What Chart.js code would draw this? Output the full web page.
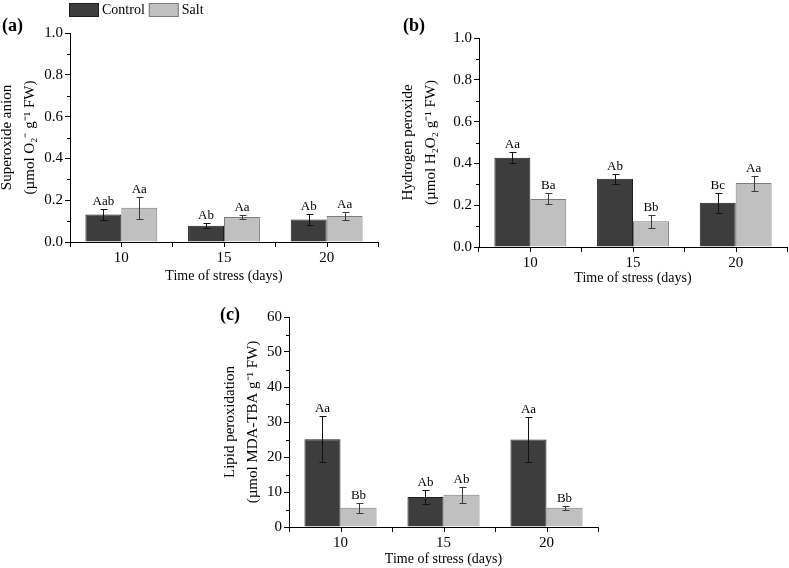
<!DOCTYPE html>
<html>
<head>
<meta charset="utf-8">
<script src="https://cdn.jsdelivr.net/npm/chart.js@4.4.1/dist/chart.umd.min.js"></script>
<style>
    html, body { margin: 0; padding: 0; background: #fff; }
    body { width: 789px; height: 568px; position: relative; overflow: hidden; }
    canvas { position: absolute; }
</style>
</head>
<body>
<canvas id="superoxideChart" width="392" height="290" style="left:-4px;top:0px"></canvas>
<canvas id="peroxideChart" width="392" height="290" style="left:397px;top:0px"></canvas>
<canvas id="lipidChart" width="385" height="278" style="left:219px;top:290px"></canvas>
<script>
const FONT = "'Liberation Serif', 'Times New Roman', serif";

const days = ['10', '15', '20'];
const seriesNames = ['Control', 'Salt'];

// (a) superoxide anion
const superoxideControl = [0.132, 0.078, 0.108];
const superoxideControlErr = [0.025, 0.013, 0.027];
const superoxideSalt = [0.164, 0.120, 0.124];
const superoxideSaltErr = [0.053, 0.011, 0.020];
const superoxideControlLetters = ['Aab', 'Ab', 'Ab'];
const superoxideSaltLetters = ['Aa', 'Aa', 'Aa'];

// (b) hydrogen peroxide
const peroxideControl = [0.427, 0.327, 0.212];
const peroxideControlErr = [0.026, 0.024, 0.048];
const peroxideSalt = [0.230, 0.123, 0.306];
const peroxideSaltErr = [0.026, 0.031, 0.036];
const peroxideControlLetters = ['Aa', 'Ab', 'Bc'];
const peroxideSaltLetters = ['Ba', 'Bb', 'Aa'];

// (c) lipid peroxidation
const lipidControl = [25.1, 8.6, 25.0];
const lipidControlErr = [6.5, 2.1, 6.3];
const lipidSalt = [5.5, 9.2, 5.5];
const lipidSaltErr = [1.4, 2.2, 0.6];
const lipidControlLetters = ['Aa', 'Ab', 'Aa'];
const lipidSaltLetters = ['Bb', 'Ab', 'Bb'];

// y tick labels
const ratioTicks = [0.0, 0.2, 0.4, 0.6, 0.8, 1.0];
const lipidTicks = [0, 10, 20, 30, 40, 50, 60];

const controlColor = '#3d3d3d';
const saltColor = '#c0c0c0';

// error bars + significance letters
const errorBarPlugin = {
    id: 'errorBars',
    afterDatasetsDraw(chart) {
        const ctx = chart.ctx;
        const y = chart.scales.y;
        chart.data.datasets.forEach((ds, i) => {
            const meta = chart.getDatasetMeta(i);
            meta.data.forEach((bar, j) => {
                const v = ds.data[j];
                const e = ds.errors[j];
                const top = Math.round(y.getPixelForValue(v + e)) + 0.5;
                const bottom = Math.round(y.getPixelForValue(v - e)) + 0.5;
                const cx = Math.round(bar.x) + 0.5;
                ctx.save();
                ctx.strokeStyle = ds.errorColor;
                ctx.lineWidth = 1;
                ctx.beginPath();
                ctx.moveTo(cx, top);
                ctx.lineTo(cx, bottom);
                ctx.moveTo(cx - 3, top);
                ctx.lineTo(cx + 4, top);
                ctx.moveTo(cx - 3, bottom);
                ctx.lineTo(cx + 4, bottom);
                ctx.stroke();
                ctx.fillStyle = '#000';
                ctx.font = '13px ' + FONT;
                ctx.textAlign = 'center';
                ctx.textBaseline = 'alphabetic';
                ctx.fillText(ds.letters[j], bar.x, top - 5);
                ctx.restore();
            });
        });
    }
};

// minor ticks on y, centre ticks on x
const minorTickPlugin = {
    id: 'minorTicks',
    afterDraw(chart) {
        const { ctx, chartArea } = chart;
        const x = chart.scales.x;
        const y = chart.scales.y;
        ctx.save();
        ctx.strokeStyle = '#000';
        ctx.lineWidth = 1;
        ctx.beginPath();
        for (let k = 0; k < y.ticks.length - 1; k++) {
            const mid = (y.ticks[k].value + y.ticks[k + 1].value) / 2;
            const py = Math.round(y.getPixelForValue(mid)) + 0.5;
            ctx.moveTo(chartArea.left - 3, py);
            ctx.lineTo(chartArea.left, py);
        }
        days.forEach((d, k) => {
            const px = Math.round(x.getPixelForValue(k)) + 0.5;
            ctx.moveTo(px, chartArea.bottom);
            ctx.lineTo(px, chartArea.bottom + 5);
        });
        ctx.stroke();
        ctx.restore();
    }
};

// panel letter and (optional) legend
const panelPlugin = {
    id: 'panel',
    afterDraw(chart, args, opts) {
        const ctx = chart.ctx;
        ctx.save();
        ctx.fillStyle = '#000';
        ctx.font = 'bold 18px ' + FONT;
        ctx.textAlign = 'left';
        ctx.textBaseline = 'alphabetic';
        ctx.fillText(opts.label, opts.labelX, opts.labelY);
        if (opts.legend) {
            let lx = opts.legendX;
            const ly = opts.legendY;
            ctx.font = '14px ' + FONT;
            ctx.textBaseline = 'middle';
            chart.data.datasets.forEach(ds => {
                ctx.fillStyle = ds.backgroundColor;
                ctx.fillRect(lx, ly, 30, 14);
                ctx.strokeStyle = ds.borderColor;
                ctx.lineWidth = 1;
                ctx.strokeRect(lx + 0.5, ly + 0.5, 29, 13);
                ctx.fillStyle = '#000';
                ctx.fillText(ds.label, lx + 33, ly + 7.5);
                lx += 33 + ctx.measureText(ds.label).width + 4;
            });
        }
        ctx.restore();
    }
};

function makePanel(id, cfg) {
    const ticks = cfg.ticks;
    return new Chart(document.getElementById(id), {
        type: 'bar',
        data: {
            labels: days,
            datasets: [
                {
                    label: seriesNames[0],
                    data: cfg.control,
                    errors: cfg.controlErr,
                    letters: cfg.controlLetters,
                    backgroundColor: controlColor,
                    borderColor: '#1c1c1c',
                    borderWidth: 1,
                    errorColor: '#111111'
                },
                {
                    label: seriesNames[1],
                    data: cfg.salt,
                    errors: cfg.saltErr,
                    letters: cfg.saltLetters,
                    backgroundColor: saltColor,
                    borderColor: '#7c7c7c',
                    borderWidth: 1,
                    errorColor: '#3a3a3a'
                }
            ]
        },
        options: {
            responsive: false,
            animation: false,
            categoryPercentage: 0.7,
            barPercentage: 1.0,
            layout: { padding: cfg.padding },
            scales: {
                x: {
                    ticks: { font: { family: FONT, size: 15 }, color: '#000', padding: 2 },
                    grid: { display: true, drawOnChartArea: false, offset: true, tickLength: 5, color: '#000' },
                    border: { display: true, color: '#000', width: 1 },
                    title: {
                        display: true,
                        text: 'Time of stress (days)',
                        font: { family: FONT, size: 14, lineHeight: 1.2 },
                        color: '#000',
                        padding: 0
                    },
                    afterFit: s => { s.height = cfg.xHeight; }
                },
                y: {
                    min: ticks[0],
                    max: ticks[ticks.length - 1],
                    ticks: {
                        stepSize: ticks[1] - ticks[0],
                        font: { family: FONT, size: 15 },
                        color: '#000',
                        padding: 2,
                        callback: v => v.toFixed(cfg.decimals)
                    },
                    grid: { display: true, drawOnChartArea: false, tickLength: 5, color: '#000' },
                    border: { display: true, color: '#000', width: 1 },
                    title: {
                        display: true,
                        text: cfg.yTitle,
                        font: { family: FONT, size: 15, lineHeight: 1.53 },
                        color: '#000',
                        padding: 0
                    },
                    afterFit: s => { s.width = cfg.yWidth; }
                }
            },
            plugins: {
                legend: { display: false },
                tooltip: { enabled: false },
                panel: cfg.panel
            }
        },
        plugins: [errorBarPlugin, minorTickPlugin, panelPlugin]
    });
}

// (a) Superoxide anion
makePanel('superoxideChart', {
    control: superoxideControl, controlErr: superoxideControlErr, controlLetters: superoxideControlLetters,
    salt: superoxideSalt, saltErr: superoxideSaltErr, saltLetters: superoxideSaltLetters,
    ticks: ratioTicks, decimals: 1,
    yTitle: ['Superoxide anion', '(\u00b5mol O\u2082\u207b g\u207b\u00b9 FW)'],
    padding: { top: 33, right: 10, bottom: 5, left: 0 },
    xHeight: 43, yWidth: 74,
    panel: { label: '(a)', labelX: 6, labelY: 31, legend: true, legendX: 73, legendY: 3 }
});

// (b) Hydrogen peroxide
makePanel('peroxideChart', {
    control: peroxideControl, controlErr: peroxideControlErr, controlLetters: peroxideControlLetters,
    salt: peroxideSalt, saltErr: peroxideSaltErr, saltLetters: peroxideSaltLetters,
    ticks: ratioTicks, decimals: 1,
    yTitle: ['Hydrogen peroxide', '(\u00b5mol H\u2082O\u2082 g\u207b\u00b9 FW)'],
    padding: { top: 38, right: 2, bottom: 3, left: 0 },
    xHeight: 40, yWidth: 82,
    panel: { label: '(b)', labelX: 6, labelY: 31, legend: false }
});

// (c) Lipid peroxidation
makePanel('lipidChart', {
    control: lipidControl, controlErr: lipidControlErr, controlLetters: lipidControlLetters,
    salt: lipidSalt, saltErr: lipidSaltErr, saltLetters: lipidSaltLetters,
    ticks: lipidTicks, decimals: 0,
    yTitle: ['Lipid peroxidation', '(\u00b5mol MDA-TBA g\u207b\u00b9 FW)'],
    padding: { top: 27, right: 6, bottom: 0, left: 0 },
    xHeight: 41, yWidth: 70,
    panel: { label: '(c)', labelX: 1, labelY: 30, legend: false }
});
</script>
</body>
</html>
